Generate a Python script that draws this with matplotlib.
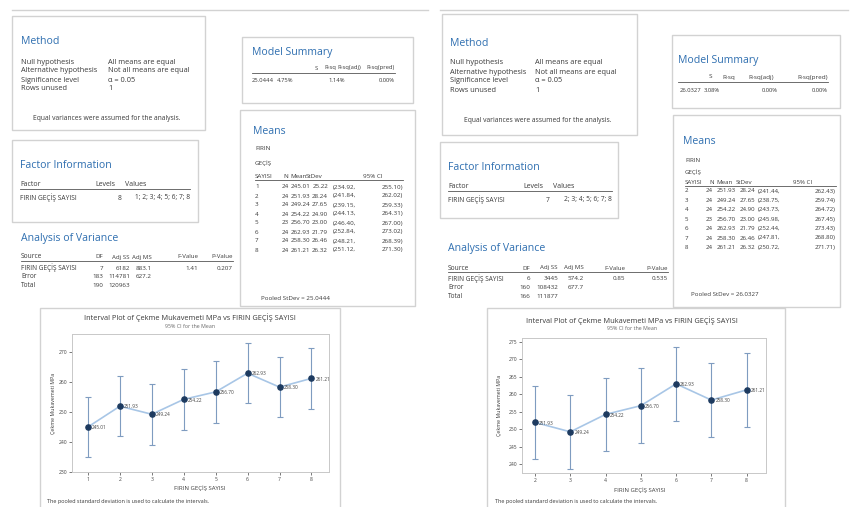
"""Two Minitab one-way ANOVA outputs side by side, with interval plots."""
import matplotlib.pyplot as plt
from matplotlib.patches import Rectangle

# Left analysis: levels 1-8
levels_left = [1, 2, 3, 4, 5, 6, 7, 8]
n_left = [24, 24, 24, 24, 23, 24, 24, 24]
mean_left = [245.01, 251.93, 249.24, 254.22, 256.70, 262.93, 258.30, 261.21]
sd_left = [25.22, 28.24, 27.65, 24.90, 23.00, 21.79, 26.46, 26.32]
lo_left = [234.92, 241.84, 239.15, 244.13, 246.40, 252.84, 248.21, 251.12]
hi_left = [255.10, 262.02, 259.33, 264.31, 267.00, 273.02, 268.39, 271.30]

# Right analysis: levels 2-8
levels_right = [2, 3, 4, 5, 6, 7, 8]
n_right = [24, 24, 24, 23, 24, 24, 24]
mean_right = [251.93, 249.24, 254.22, 256.70, 262.93, 258.30, 261.21]
sd_right = [28.24, 27.65, 24.90, 23.00, 21.79, 26.46, 26.32]
lo_right = [241.44, 238.75, 243.73, 245.98, 252.44, 247.81, 250.72]
hi_right = [262.43, 259.74, 264.72, 267.45, 273.43, 268.80, 271.71]

# Session window tables
method_rows = [
    ("Null hypothesis", "All means are equal"),
    ("Alternative hypothesis", "Not all means are equal"),
    ("Significance level", "α = 0.05"),
    ("Rows unused", "1"),
]
summary_header = ["S", "R-sq", "R-sq(adj)", "R-sq(pred)"]
summary_left = ["25.0444", "4.75%", "1.14%", "0.00%"]
summary_right = ["26.0327", "3.08%", "0.00%", "0.00%"]
anova_header = ["Source", "DF", "Adj SS", "Adj MS", "F-Value", "P-Value"]
anova_left = [
    ["FIRIN GEÇİŞ SAYISI", "7", "6182", "883.1", "1.41", "0.207"],
    ["Error", "183", "114781", "627.2", "", ""],
    ["Total", "190", "120963", "", "", ""],
]
anova_right = [
    ["FIRIN GEÇİŞ SAYISI", "6", "3445", "574.2", "0.85", "0.535"],
    ["Error", "160", "108432", "677.7", "", ""],
    ["Total", "166", "111877", "", "", ""],
]
factor_left = ["FIRIN GEÇİŞ SAYISI", "8", "1; 2; 3; 4; 5; 6; 7; 8"]
factor_right = ["FIRIN GEÇİŞ SAYISI", "7", "2; 3; 4; 5; 6; 7; 8"]
pooled_left = "Pooled StDev = 25.0444"
pooled_right = "Pooled StDev = 26.0327"

plot_title = "Interval Plot of Çekme Mukavemeti MPa vs FIRIN GEÇİŞ SAYISI"
plot_subtitle = "95% CI for the Mean"
plot_ylabel = "Çekme Mukavemeti MPa"
plot_xlabel = "FIRIN GEÇİŞ SAYISI"
plot_note = "The pooled standard deviation is used to calculate the intervals."
equal_var_note = "Equal variances were assumed for the analysis."

BLUE = "#2f6fb0"
TXT = "#3a3a3a"
BORDER = "#d2d2d2"
HEAD = 7.6
W, H = 851, 507


def box(bg, x0, y0, x1, y1):
    bg.add_patch(Rectangle((x0, y0), x1 - x0, y1 - y0, facecolor="white",
                           edgecolor=BORDER, lw=1.0, zorder=1))


def txt(bg, x, y, s, size=5.0, ha="left", color=TXT, **kw):
    bg.text(x, y, s, fontsize=size, ha=ha, va="center", color=color, zorder=3, **kw)


def hline(bg, x0, x1, y):
    bg.plot([x0, x1], [y, y], color="#555555", lw=0.6, zorder=3)


def method_panel(bg, x, y, col2):
    txt(bg, x, y, "Method", size=HEAD, color=BLUE)
    for i, (a, b) in enumerate(method_rows):
        yy = y + 20 + i * 9
        txt(bg, x, yy, a, size=5.3)
        txt(bg, col2, yy, b, size=5.3)


def summary_panel(bg, x, y, hdr_right, cols, values, right, hsize):
    txt(bg, x, y, "Model Summary", size=HEAD, color=BLUE)
    for h, c in zip(summary_header, hdr_right):
        txt(bg, c, y + 16, h, size=hsize, ha="right")
    hline(bg, x, right, y + 21)
    for v, c in zip(values, cols):
        txt(bg, c, y + 29, v, size=4.2, ha="right")


def means_panel(bg, x, ys, levels, n, mean, sd, lo, hi, cols, hdr, pooled, size):
    # ys: title, FIRIN, GECIS, header, underline, first row, row step, pooled line
    txt(bg, x, ys[0], "Means", size=HEAD, color=BLUE)
    txt(bg, x + 2, ys[1], "FIRIN", size=size)
    txt(bg, x + 2, ys[2], "GEÇİŞ", size=size)
    for word, c in zip(["SAYISI", "N", "Mean", "StDev", "95% CI"], hdr):
        txt(bg, c, ys[3], word, size=size)
    hline(bg, x + 2, cols[-1], ys[4])
    for i in range(len(levels)):
        yy = ys[5] + i * ys[6]
        txt(bg, x + 2, yy, str(levels[i]), size=size)
        txt(bg, cols[0], yy, str(n[i]), size=size, ha="right")
        txt(bg, cols[1], yy, f"{mean[i]:.2f}", size=size, ha="right")
        txt(bg, cols[2], yy, f"{sd[i]:.2f}", size=size, ha="right")
        txt(bg, cols[3], yy, f"({lo[i]:.2f},", size=size)
        txt(bg, cols[4], yy, f"{hi[i]:.2f})", size=size, ha="right")
    txt(bg, x + 8, ys[7], pooled, size=size)


def factor_panel(bg, x, y, row, c_lev, c_val, right):
    txt(bg, x, y, "Factor Information", size=HEAD, color=BLUE)
    txt(bg, x, y + 19, "Factor")
    txt(bg, c_lev, y + 19, "Levels")
    txt(bg, c_val, y + 19, "Values")
    hline(bg, x, right, y + 24)
    txt(bg, x, y + 33, row[0], size=4.8)
    txt(bg, c_val - 4, y + 33, row[1], size=4.8, ha="right")
    txt(bg, right, y + 33, row[2], size=4.8, ha="right")


def anova_panel(bg, x, y, rows, cols):
    txt(bg, x, y, "Analysis of Variance", size=HEAD, color=BLUE)
    txt(bg, x, y + 19, anova_header[0], size=4.8)
    for h, c in zip(anova_header[1:], cols):
        txt(bg, c, y + 19, h, size=4.4, ha="right")
    hline(bg, x, cols[-1], y + 23)
    for i, row in enumerate(rows):
        yy = y + 30 + i * 8.6
        txt(bg, x, yy, row[0], size=4.7)
        for v, c in zip(row[1:], cols):
            txt(bg, c, yy, v, size=4.5, ha="right")


def interval_plot(fig, rect, levels, mean, lo, hi, xlim, ylim, yticks):
    ax = fig.add_axes([rect[0] / W, 1 - rect[3] / H,
                       (rect[2] - rect[0]) / W, (rect[3] - rect[1]) / H])
    err = [[m - a for m, a in zip(mean, lo)], [b - m for m, b in zip(mean, hi)]]
    ax.errorbar(levels, mean, yerr=err, fmt="none", ecolor="#7f9cc0",
                elinewidth=0.8, capsize=2.2, capthick=0.8, zorder=2)
    ax.plot(levels, mean, color="#a8c6e6", lw=1.2, zorder=3)
    ax.scatter(levels, mean, s=14, color="#1d3a5f", zorder=4)
    for lv, m in zip(levels, mean):
        ax.annotate(f"{m:.2f}", (lv, m), xytext=(3, -0.5), textcoords="offset points",
                    fontsize=3.4, va="center", color="#444444")
    ax.set_xlim(*xlim)
    ax.set_ylim(*ylim)
    ax.set_xticks(levels)
    ax.set_yticks(yticks)
    ax.tick_params(labelsize=3.6, length=2, width=0.5, pad=1.5, colors="#444444")
    for sp in ax.spines.values():
        sp.set_color("#c8c8c8")
        sp.set_linewidth(0.7)
    return ax


def main():

    plt.rcParams["font.family"] = ["Open Sans", "DejaVu Sans"]
    fig = plt.figure(figsize=(W / 100, H / 100), dpi=100)
    bg = fig.add_axes([0, 0, 1, 1])
    bg.set_xlim(0, W)
    bg.set_ylim(H, 0)
    bg.axis("off")

    # Top separator lines
    bg.plot([12, 428], [10, 10], color=BORDER, lw=1.0)
    bg.plot([440, 848], [10, 10], color=BORDER, lw=1.0)

    # ---- Left half ----
    box(bg, 12, 16, 205, 130)
    method_panel(bg, 21, 42, 108)
    txt(bg, 107, 119, equal_var_note, size=4.9, ha="center")

    box(bg, 242, 37, 413, 103)
    summary_panel(bg, 252, 52, [318, 336, 361, 395], [274, 293, 345, 395],
                  summary_left, 395, 4.2)

    box(bg, 240, 110, 415, 306)
    means_panel(bg, 253, [131, 149, 163, 176, 180, 187, 9.0, 298],
                levels_left, n_left, mean_left, sd_left, lo_left, hi_left,
                [289, 310, 328, 333, 403], [255, 283, 290, 306, 363], pooled_left, 4.5)

    box(bg, 12, 140, 198, 222)
    factor_panel(bg, 20, 165, factor_left, 95, 125, 190)

    anova_panel(bg, 21, 238, anova_left, [103, 130, 152, 198, 233])

    box(bg, 40, 308, 340, 512)
    interval_plot(fig, (72, 334, 329, 472), levels_left, mean_left, lo_left, hi_left,
                  (0.5, 8.55), (230, 276), [230, 240, 250, 260, 270])
    txt(bg, 190, 318, plot_title, size=5.3, ha="center")
    txt(bg, 190, 326, plot_subtitle, size=3.8, ha="center", color="#666666")
    txt(bg, 53, 403, plot_ylabel, size=3.8, ha="center", rotation=90)
    txt(bg, 200, 488, plot_xlabel, size=4.3, ha="center")
    txt(bg, 47, 502, plot_note, size=4.0)

    # ---- Right half ----
    box(bg, 442, 14, 637, 135)
    method_panel(bg, 450, 43, 535)
    txt(bg, 538, 120, equal_var_note, size=4.9, ha="center")

    box(bg, 672, 35, 840, 108)
    summary_panel(bg, 678, 61, [712, 735, 774, 828], [701, 720, 778, 828],
                  summary_right, 828, 4.6)

    box(bg, 673, 115, 840, 307)
    means_panel(bg, 683, [142, 160, 172, 182, 186, 191, 9.4, 295],
                levels_right, n_right, mean_right, sd_right, lo_right, hi_right,
                [713, 736, 755, 758, 836], [685, 709, 716, 736, 793],
                pooled_right, 4.4)

    box(bg, 440, 142, 618, 218)
    factor_panel(bg, 448, 167, factor_right, 523, 553, 612)

    anova_panel(bg, 448, 249, anova_right, [530, 558, 584, 625, 668])

    box(bg, 487, 308, 785, 512)
    interval_plot(fig, (522, 338, 766, 473), levels_right, mean_right, lo_right,
                  hi_right, (1.63, 8.55), (237.5, 276),
                  [240, 245, 250, 255, 260, 265, 270, 275])
    txt(bg, 632, 321, plot_title, size=5.3, ha="center")
    txt(bg, 632, 329, plot_subtitle, size=3.8, ha="center", color="#666666")
    txt(bg, 500, 405, plot_ylabel, size=3.8, ha="center", rotation=90)
    txt(bg, 640, 490, plot_xlabel, size=4.3, ha="center")
    txt(bg, 495, 502, plot_note, size=4.0)

    fig.savefig("out.png", dpi=100)


if __name__ == "__main__":
    main()
